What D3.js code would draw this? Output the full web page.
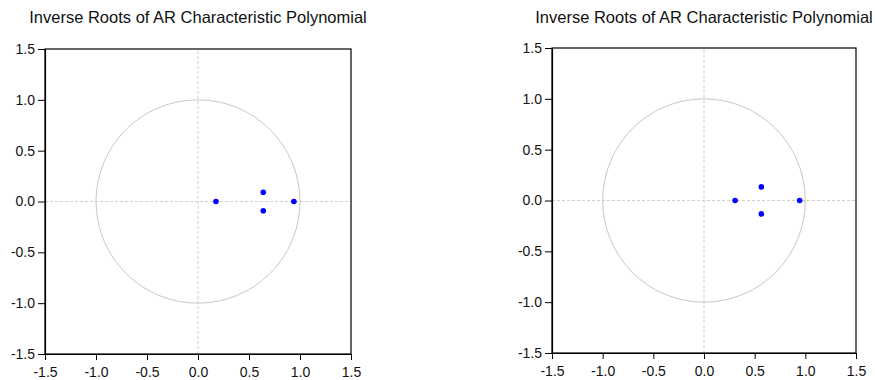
<!DOCTYPE html>
<html><head><meta charset="utf-8">
<script src="https://cdn.jsdelivr.net/npm/d3@7/dist/d3.min.js"></script>
<style>body{margin:0;background:#fff}svg{display:block}</style>
</head><body>
<script>
const titleText = "Inverse Roots of AR Characteristic Polynomial";
const tickValues = [-1.5, -1.0, -0.5, 0.0, 0.5, 1.0, 1.5];
const leftRootsRe = [0.176, 0.64, 0.64, 0.94];
const leftRootsIm = [0.0, 0.091, -0.091, 0.0];
const rightRootsRe = [0.307, 0.566, 0.566, 0.944];
const rightRootsIm = [0.0, 0.134, -0.132, 0.0];

const W = 875, H = 380;
const FONT = "Liberation Sans, Arial, sans-serif";
const svg = d3.select("body").append("svg").attr("width", W).attr("height", H);

function panel(x0, x1, y0, y1, re, im) {
  const xs = d3.scaleLinear().domain([-1.5, 1.5]).range([x0, x1]);
  const ys = d3.scaleLinear().domain([-1.5, 1.5]).range([y1, y0]);
  const g = svg.append("g");
  g.append("text").attr("x", (x0 + x1) / 2).attr("y", 23)
    .attr("text-anchor", "middle").attr("font-family", FONT)
    .attr("font-size", 16.5).attr("fill", "#111").text(titleText);
  g.append("line").attr("x1", xs(-1.5)).attr("x2", xs(1.5)).attr("y1", ys(0)).attr("y2", ys(0))
    .attr("stroke", "#cfcfcf").attr("stroke-dasharray", "3,2");
  g.append("line").attr("x1", xs(0)).attr("x2", xs(0)).attr("y1", ys(-1.5)).attr("y2", ys(1.5))
    .attr("stroke", "#cfcfcf").attr("stroke-dasharray", "3,2");
  g.append("ellipse").attr("cx", xs(0)).attr("cy", ys(0))
    .attr("rx", xs(1) - xs(0)).attr("ry", ys(0) - ys(1))
    .attr("fill", "none").attr("stroke", "#c8c8c8").attr("stroke-width", 1);
  g.append("rect").attr("x", x0).attr("y", y0).attr("width", x1 - x0).attr("height", y1 - y0)
    .attr("fill", "none").attr("stroke", "#000").attr("stroke-width", 1.2);
  g.selectAll("circle.pt").data(re.map((r, i) => [r, im[i]])).enter().append("circle")
    .attr("class", "pt").attr("cx", d => xs(d[0])).attr("cy", d => ys(d[1])).attr("r", 2.8)
    .attr("fill", "#0000ff");
  const fmt = d => d.toFixed(1);
  const xa = g.append("g").attr("transform", `translate(0,${y1})`)
    .call(d3.axisBottom(xs).tickValues(tickValues).tickFormat(fmt).tickSize(6).tickSizeOuter(0));
  const ya = g.append("g").attr("transform", `translate(${x0},0)`)
    .call(d3.axisLeft(ys).tickValues(tickValues).tickFormat(fmt).tickSize(7).tickSizeOuter(0));
  [xa, ya].forEach(a => {
    a.select(".domain").attr("stroke", "#000").attr("stroke-width", 1.2);
    a.selectAll("line").attr("stroke", "#000");
    a.selectAll("text").attr("font-family", FONT)
      .attr("font-size", 14).attr("fill", "#111");
  });
  xa.selectAll("text").attr("y", 9).attr("dy", "1.0em");
  ya.selectAll("text").attr("x", -10);
}

panel(45, 351, 49, 354, leftRootsRe, leftRootsIm);
panel(552, 856, 48, 353, rightRootsRe, rightRootsIm);
</script>
</body></html>
